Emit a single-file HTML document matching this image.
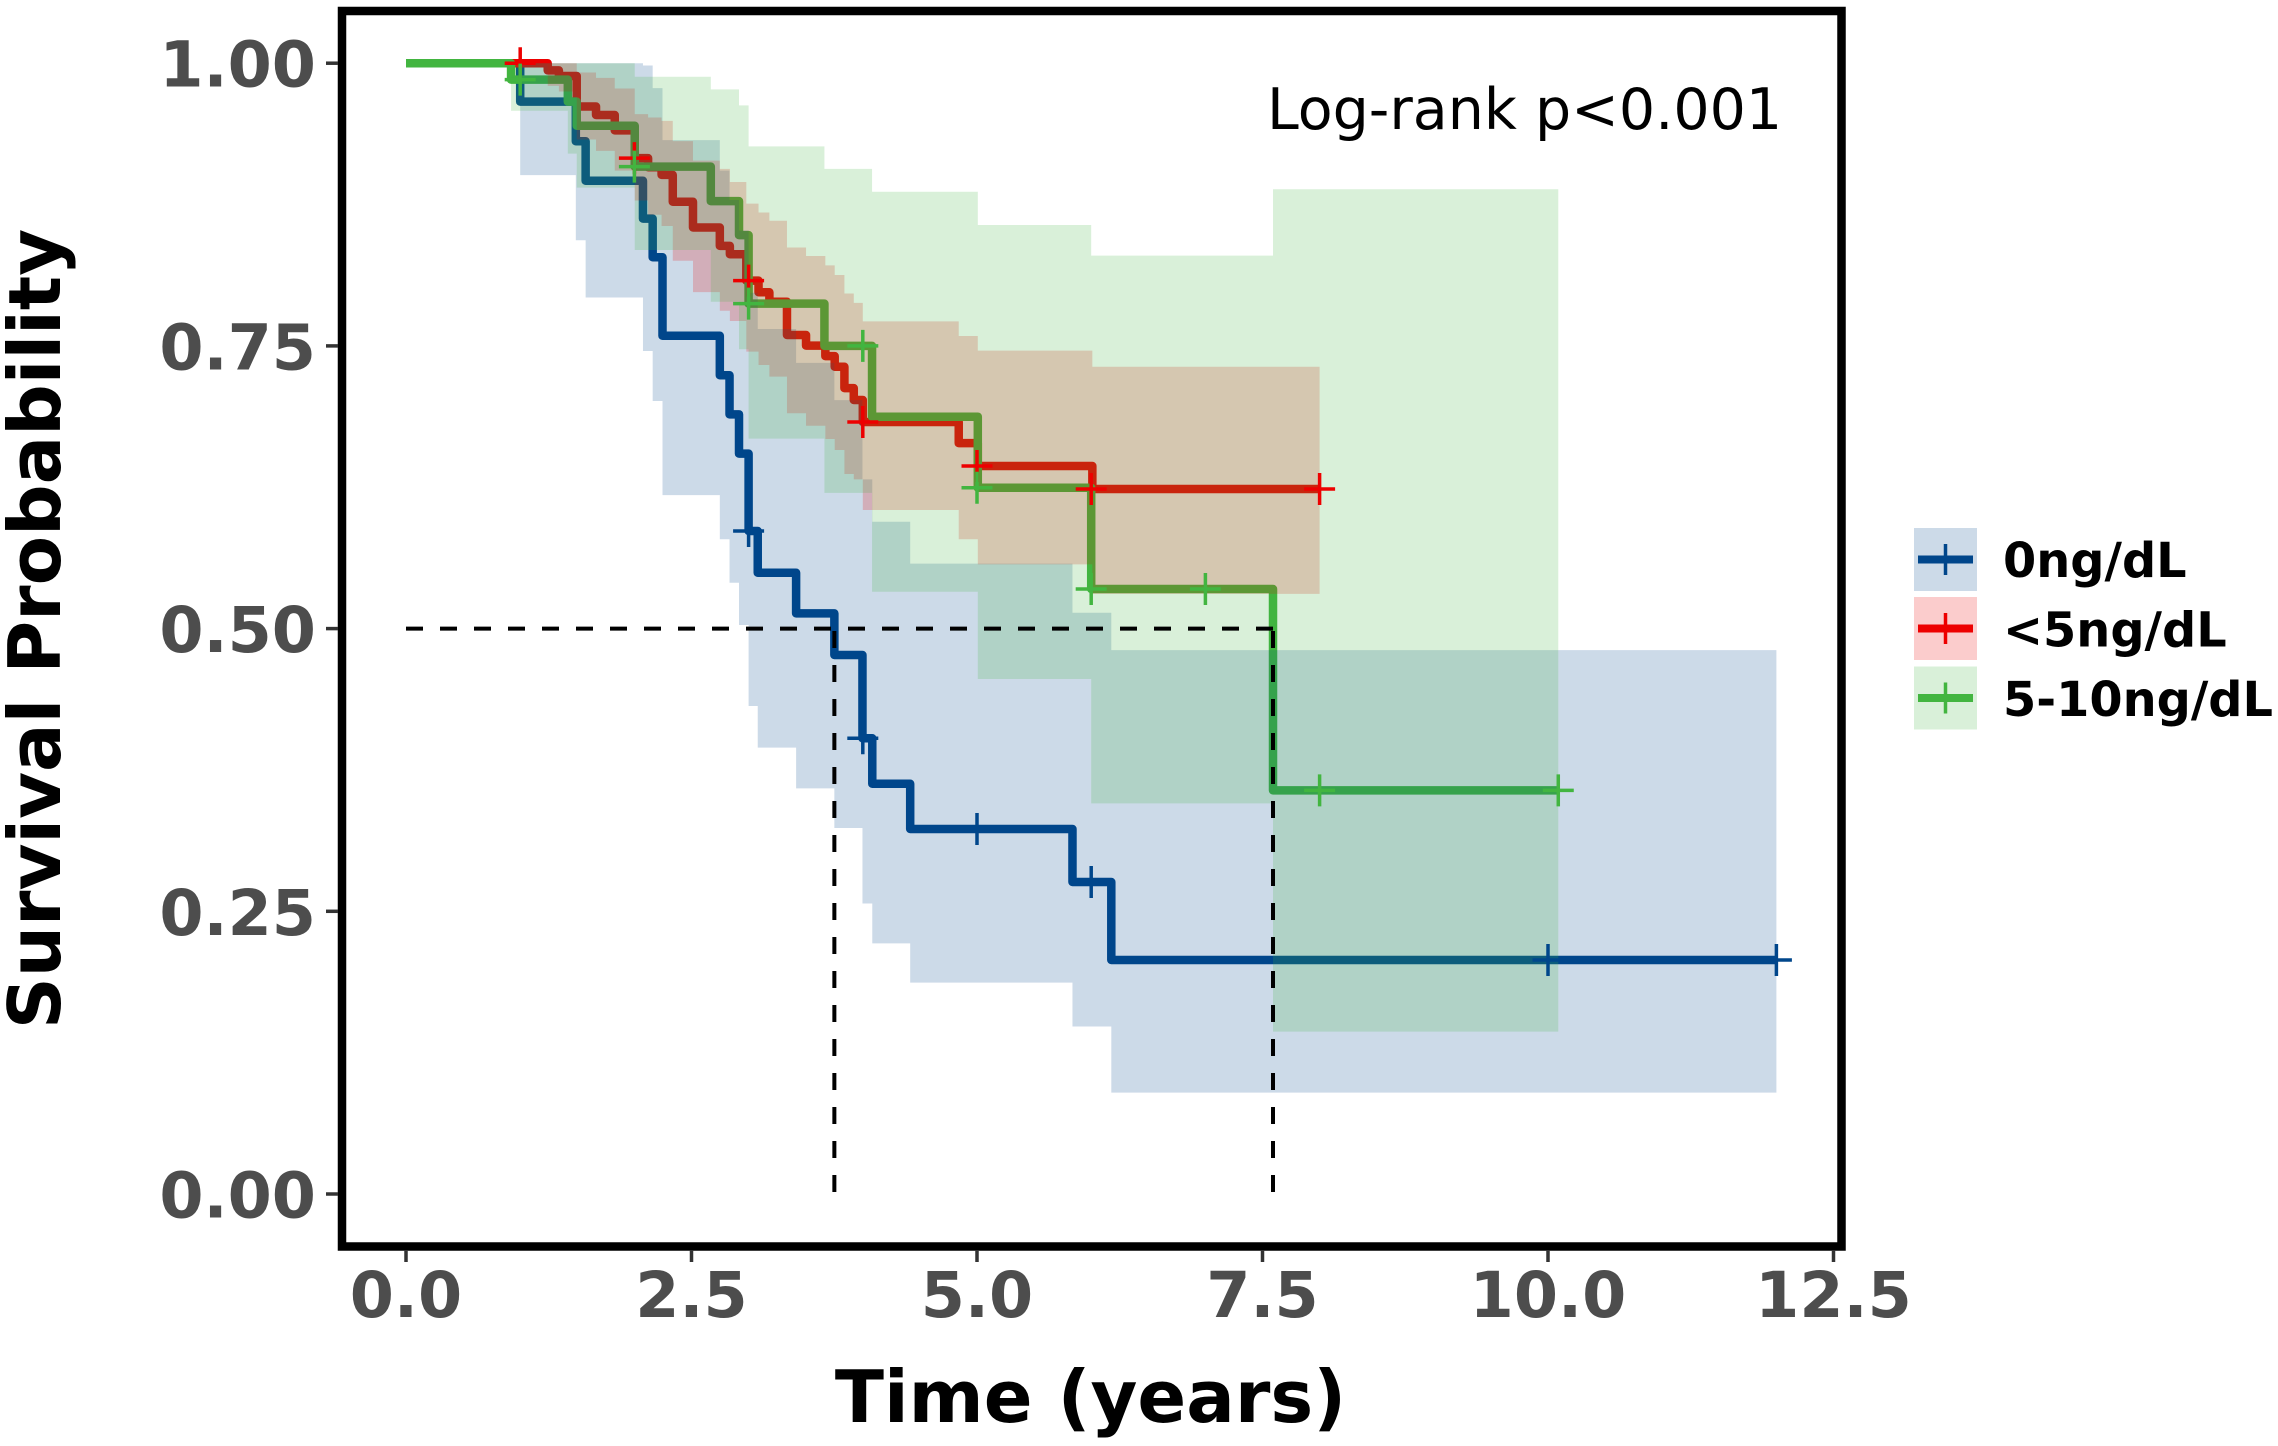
<!DOCTYPE html>
<html lang="en">
<head>
<meta charset="utf-8">
<title>Kaplan-Meier survival curves</title>
<style>
html,body{margin:0;padding:0;background:#fff;}
svg{display:block;}
text{font-family:"DejaVu Sans","Liberation Sans",sans-serif;}
</style>
</head>
<body>
<svg id="chart" xmlns="http://www.w3.org/2000/svg" width="2278" height="1446" viewBox="0 0 2278 1446">
  <rect x="0" y="0" width="2278" height="1446" fill="#fff"/>
  <g id="lines"></g>
  <g id="ribbons"></g>
  <g id="censors"></g>
  <g id="medians"></g>
  <rect x="342" y="11" width="1499.5" height="1235.5" fill="none" stroke="#000" stroke-width="8.5"/>
  <g id="axes"></g>
  <text x="1267" y="129" font-size="57" fill="#000">Log-rank p&lt;0.001</text>
  <text x="1090.5" y="1422" font-size="72" font-weight="700" text-anchor="middle" fill="#000">Time (years)</text>
  <text transform="translate(60,629) rotate(-90)" font-size="72" font-weight="700" text-anchor="middle" fill="#000">Survival Probability</text>
  <g>
    <g>
      <rect x="1914" y="528" width="63" height="63" fill="#00468B" fill-opacity="0.2"/>
      <line x1="1918" x2="1973" y1="559.5" y2="559.5" stroke="#00468B" stroke-width="8"/>
      <line x1="1945.5" x2="1945.5" y1="544" y2="575" stroke="#00468B" stroke-width="3.5"/>
      <text x="2003" y="577" font-size="47.8" font-weight="700" fill="#000">0ng/dL</text>
    </g>
    <g>
      <rect x="1914" y="597" width="63" height="63" fill="#ED0000" fill-opacity="0.2"/>
      <line x1="1918" x2="1973" y1="628.5" y2="628.5" stroke="#ED0000" stroke-width="8"/>
      <line x1="1945.5" x2="1945.5" y1="613" y2="644" stroke="#ED0000" stroke-width="3.5"/>
      <text x="2003" y="646.5" font-size="47.8" font-weight="700" fill="#000">&lt;5ng/dL</text>
    </g>
    <g>
      <rect x="1914" y="666.5" width="63" height="63" fill="#42B540" fill-opacity="0.2"/>
      <line x1="1918" x2="1973" y1="698" y2="698" stroke="#42B540" stroke-width="8"/>
      <line x1="1945.5" x2="1945.5" y1="682.5" y2="713.5" stroke="#42B540" stroke-width="3.5"/>
      <text x="2003" y="716" font-size="47.8" font-weight="700" fill="#000">5-10ng/dL</text>
    </g>
  </g>
</svg>
<script>
var xTickValues = [0, 2.5, 5, 7.5, 10, 12.5];
var xTickLabels = ["0.0", "2.5", "5.0", "7.5", "10.0", "12.5"];
var yTickValues = [0, 0.25, 0.5, 0.75, 1];
var yTickLabels = ["0.00", "0.25", "0.50", "0.75", "1.00"];

var blueTimes = [0,1.0,1.487,1.573,2.075,2.16,2.246,2.748,2.833,2.916,3.0,3.08,3.416,3.751,3.997,4.083,4.415,5.836,6.176,12];
var blueSurv = [1,.966,.931,.896,.8626,.8284,.759,.724,.6895,.6547,.5863,.5494,.5135,.4767,.403,.3628,.3228,.2759,.2069,.2069];
var blueLower = [1,.901,.8434,.7928,.7455,.7013,.618,.579,.5406,.5032,.4315,.3947,.3587,.3237,.2569,.2216,.1869,.1481,.0897,.0897];
var blueUpper = [1,1,1,1,.998,.978,.932,.905,.879,.852,.797,.765,.735,.702,.632,.5945,.5575,.514,.481,.481];
var blueCensorTimes = [3,4,5,6,10,12];
var blueCensorSurv = [.5863,.403,.3228,.2759,.2069,.2069];

var redTimes = [0,1.241,1.339,1.495,1.664,1.828,2.003,2.12,2.238,2.336,2.513,2.748,2.836,2.98,3.087,3.182,3.336,3.503,3.672,3.754,3.839,3.921,4.0,4.84,5.007,6.01,8];
var redSurv = [1,.9936,.9887,.9617,.9542,.9406,.916,.908,.9012,.8775,.8547,.8385,.831,.8077,.7974,.789,.7596,.7502,.741,.7316,.7127,.7022,.6827,.664,.6438,.6234,.6234];
var redLower = [1,.98,.975,.9325,.9225,.905,.8786,.866,.856,.8253,.7975,.7811,.772,.7449,.7331,.7228,.6904,.6794,.6677,.6579,.6367,.632,.6049,.579,.5568,.5307,.5307];
var redUpper = [1,1,1,.9918,.987,.9776,.955,.952,.949,.9311,.9138,.9066,.8949,.8758,.868,.8607,.837,.8295,.8212,.8127,.7963,.788,.7717,.7588,.7458,.7316,.7316];
var redCensorTimes = [1,2,3,4,5,6,8];
var redCensorSurv = [1,.916,.8077,.6827,.6438,.6234,.6234];

var greenTimes = [0,.92,1.417,1.495,2.003,2.669,2.916,3.0,3.664,4.081,5.007,6.0,7.592,10.09];
var greenSurv = [1,.9855,.966,.9447,.9085,.878,.848,.7874,.75,.6874,.6246,.535,.3569,.3569];
var greenLower = [1,.958,.92,.89,.8348,.789,.747,.668,.62,.5326,.4554,.3454,.1436,.1436];
var greenUpper = [1,1,1,1,.988,.9769,.9627,.9264,.9065,.8863,.8569,.8298,.8885,.8885];
var greenCensorTimes = [1,2,3,4,5,6,7,8,10.09];
var greenCensorSurv = [.9855,.9085,.7874,.75,.6246,.535,.535,.3569,.3569];

var medianTimes = [3.751, 7.592];
var medianLevel = 0.5;

var NS = "http://www.w3.org/2000/svg";
function xScale(t) { return 406 + 114.2 * t; }
function yScale(s) { return 1194 - 1130.8 * s; }
function make(tag, parentId) {
  var el = document.createElementNS(NS, tag);
  document.getElementById(parentId).appendChild(el);
  return el;
}
function stepPath(times, surv) {
  var d = "M" + xScale(times[0]) + " " + yScale(surv[0]);
  for (var i = 1; i < times.length; i++) {
    d += "L" + xScale(times[i]) + " " + yScale(surv[i - 1]);
    d += "L" + xScale(times[i]) + " " + yScale(surv[i]);
  }
  return d;
}
function ribbonPath(times, lower, upper) {
  var n = times.length;
  var d = "M" + xScale(times[0]) + " " + yScale(upper[0]);
  for (var i = 1; i < n; i++) {
    d += "L" + xScale(times[i]) + " " + yScale(upper[i - 1]);
    d += "L" + xScale(times[i]) + " " + yScale(upper[i]);
  }
  for (var j = n - 1; j > 0; j--) {
    d += "L" + xScale(times[j]) + " " + yScale(lower[j]);
    d += "L" + xScale(times[j]) + " " + yScale(lower[j - 1]);
  }
  return d + "L" + xScale(times[0]) + " " + yScale(lower[0]) + "Z";
}
function drawLine(times, surv, color, name) {
  var p = make("path", "lines");
  p.setAttribute("d", stepPath(times, surv));
  p.setAttribute("fill", "none");
  p.setAttribute("stroke", color);
  p.setAttribute("stroke-width", "8.5");
  p.setAttribute("stroke-linejoin", "round");
  
  
}
function drawRibbon(times, lower, upper, color, name) {
  var p = make("path", "ribbons");
  p.setAttribute("d", ribbonPath(times, lower, upper));
  p.setAttribute("fill", color);
  p.setAttribute("fill-opacity", "0.2");
  
  
}
function drawCensors(times, surv, color, name) {
  for (var i = 0; i < times.length; i++) {
    var x = xScale(times[i]), y = yScale(surv[i]);
    var p = make("path", "censors");
    p.setAttribute("d", "M" + (x - 15.5) + " " + y + "H" + (x + 15.5) + "M" + x + " " + (y - 16) + "V" + (y + 16));
    p.setAttribute("fill", "none");
    p.setAttribute("stroke", color);
    p.setAttribute("stroke-width", "3.5");
    
    
  }
}

drawLine(blueTimes, blueSurv, "#00468B", "survival-line-0ng");
drawLine(redTimes, redSurv, "#ED0000", "survival-line-under-5ng");
drawLine(greenTimes, greenSurv, "#42B540", "survival-line-5-10ng");
drawRibbon(blueTimes, blueLower, blueUpper, "#00468B", "ci-ribbon-0ng");
drawRibbon(redTimes, redLower, redUpper, "#ED0000", "ci-ribbon-under-5ng");
drawRibbon(greenTimes, greenLower, greenUpper, "#42B540", "ci-ribbon-5-10ng");
drawCensors(blueCensorTimes, blueCensorSurv, "#00468B", "censor-mark-0ng");
drawCensors(redCensorTimes, redCensorSurv, "#ED0000", "censor-mark-under-5ng");
drawCensors(greenCensorTimes, greenCensorSurv, "#42B540", "censor-mark-5-10ng");

var maxMedian = Math.max.apply(null, medianTimes);
var hGuide = make("line", "medians");
hGuide.setAttribute("x1", xScale(0));
hGuide.setAttribute("x2", xScale(maxMedian));
hGuide.setAttribute("y1", yScale(medianLevel));
hGuide.setAttribute("y2", yScale(medianLevel));
hGuide.setAttribute("stroke", "#000");
hGuide.setAttribute("stroke-width", "4");
hGuide.setAttribute("stroke-dasharray", "17 17");


for (var m = 0; m < medianTimes.length; m++) {
  var vGuide = make("line", "medians");
  vGuide.setAttribute("x1", xScale(medianTimes[m]));
  vGuide.setAttribute("x2", xScale(medianTimes[m]));
  vGuide.setAttribute("y1", yScale(0) - 2);
  vGuide.setAttribute("y2", yScale(medianLevel));
  vGuide.setAttribute("stroke", "#000");
  vGuide.setAttribute("stroke-width", "4");
  vGuide.setAttribute("stroke-dasharray", "17 17");
  
  
}

for (var a = 0; a < xTickValues.length; a++) {
  var xt = make("line", "axes");
  xt.setAttribute("x1", xScale(xTickValues[a]));
  xt.setAttribute("x2", xScale(xTickValues[a]));
  xt.setAttribute("y1", 1250);
  xt.setAttribute("y2", 1262);
  xt.setAttribute("stroke", "#333");
  xt.setAttribute("stroke-width", "3.5");
  
  
  var xl = make("text", "axes");
  xl.setAttribute("x", xScale(xTickValues[a]));
  xl.setAttribute("y", 1317);
  xl.setAttribute("font-size", "63.5");
  xl.setAttribute("font-weight", "700");
  xl.setAttribute("fill", "#4D4D4D");
  xl.setAttribute("text-anchor", "middle");
  
  
  xl.textContent = xTickLabels[a];
}
for (var b = 0; b < yTickValues.length; b++) {
  var yt = make("line", "axes");
  yt.setAttribute("x1", 326);
  yt.setAttribute("x2", 338);
  yt.setAttribute("y1", yScale(yTickValues[b]));
  yt.setAttribute("y2", yScale(yTickValues[b]));
  yt.setAttribute("stroke", "#333");
  yt.setAttribute("stroke-width", "3.5");
  
  
  var yl = make("text", "axes");
  yl.setAttribute("x", 316);
  yl.setAttribute("y", yScale(yTickValues[b]) + 23.5);
  yl.setAttribute("font-size", "63.5");
  yl.setAttribute("font-weight", "700");
  yl.setAttribute("fill", "#4D4D4D");
  yl.setAttribute("text-anchor", "end");
  
  
  yl.textContent = yTickLabels[b];
}
</script>
</body>
</html>
